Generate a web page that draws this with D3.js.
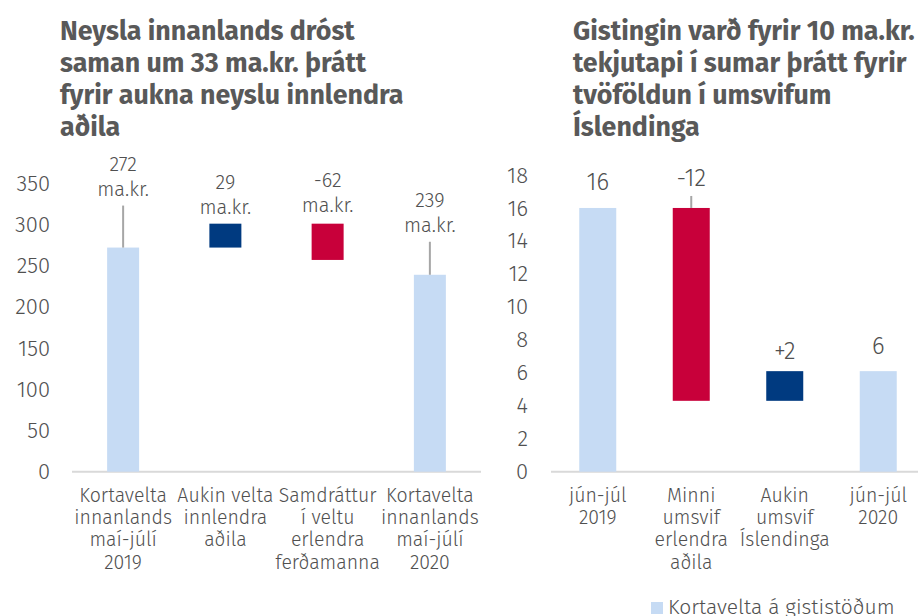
<!DOCTYPE html>
<html>
<head>
<meta charset="utf-8">
<script src="https://cdn.jsdelivr.net/npm/d3@7"></script>
<style>
  body { margin: 0; background: #fff; }
  svg { display: block; }
  .title { font-family: "Fira Sans", "Open Sans", sans-serif; font-weight: 700; fill: #595959; }
  .tick text, .lbl, .cat, .legend { font-family: "Fira Sans", Roboto, sans-serif; font-weight: 300; fill: #505050; }
</style>
</head>
<body>
<div id="chart"></div>
<script>
// left panel: card turnover, ma.kr.
const leftTitle = ['Neysla innanlands dróst', 'saman um 33 ma.kr. þrátt', 'fyrir aukna neyslu innlendra', 'aðila']
const leftCats = [
  ['Kortavelta', 'innanlands', 'maí-júlí', '2019'],
  ['Aukin velta', 'innlendra', 'aðila'],
  ['Samdráttur', 'í veltu', 'erlendra', 'ferðamanna'],
  ['Kortavelta', 'innanlands', 'maí-júlí', '2020']
]
const leftLow = [0, 272, 257, 0]
const leftHigh = [272, 301, 301, 239]
const leftLabels = [['272', 'ma.kr.'], ['29', 'ma.kr.'], ['-62', 'ma.kr.'], ['239', 'ma.kr.']]
const leftTicks = [0, 50, 100, 150, 200, 250, 300, 350]

// right panel: accommodation
const rightTitle = ['Gistingin varð fyrir 10 ma.kr.', 'tekjutapi í sumar þrátt fyrir', 'tvöföldun í umsvifum', 'Íslendinga']
const rightCats = [
  ['jún-júl', '2019'],
  ['Minni', 'umsvif', 'erlendra', 'aðila'],
  ['Aukin', 'umsvif', 'Íslendinga'],
  ['jún-júl', '2020']
]
const rightLow = [0, 4.3, 4.3, 0]
const rightHigh = [16, 16, 6.1, 6.1]
const rightLabels = [['16'], ['-12'], ['+2'], ['6']]
const rightTicks = [0, 2, 4, 6, 8, 10, 12, 14, 16, 18]

const kinds = ['total', 'up', 'down', 'total']
const kindsRight = ['total', 'down', 'up', 'total']
const colors = { total: '#c6dbf4', up: '#003a80', down: '#c8003a' }

const width = 918
const height = 616

const svg = d3.select('#chart')
  .append('svg')
  .attr('width', width)
  .attr('height', height)

function drawPanel(o) {
  const x = d3.scaleBand()
    .domain(d3.range(o.cats.length))
    .range([o.left, o.right])
  const y = d3.scaleLinear()
    .domain([0, d3.max(o.ticks)])
    .range([o.bottom, o.top])

  const g = svg.append('g')

  // title
  g.append('text')
    .attr('class', 'title')
    .attr('font-size', 26.8)
    .selectAll('tspan')
    .data(o.title)
    .enter()
    .append('tspan')
    .attr('x', o.titleX)
    .attr('y', (d, i) => 40 + i * 32)
    .text(d => d)

  // y axis
  const yAxis = d3.axisLeft(y).tickValues(o.ticks).tickSize(0).tickPadding(o.tickPad)
  const ya = g.append('g')
    .attr('transform', `translate(${o.left}, 0)`)
    .call(yAxis)
  ya.select('.domain').remove()
  ya.selectAll('text').attr('font-size', 22).attr('fill', '#505050')

  // baseline
  g.append('line')
    .attr('x1', o.left)
    .attr('x2', o.right)
    .attr('y1', y(0))
    .attr('y2', y(0))
    .attr('stroke', '#d9d9d9')
    .attr('stroke-width', 2)

  // bars
  g.selectAll('rect.bar')
    .data(o.low)
    .enter()
    .append('rect')
    .attr('class', 'bar')
    .attr('x', (d, i) => x(i) + x.bandwidth() / 2 - o.barW / 2)
    .attr('y', (d, i) => y(o.high[i]))
    .attr('width', o.barW)
    .attr('height', (d, i) => y(d) - y(o.high[i]))
    .attr('fill', (d, i) => colors[o.kinds[i]])

  // leader lines and labels
  o.labels.forEach((lines, i) => {
    const cx = x(i) + x.bandwidth() / 2
    const top = y(o.high[i])
    const lead = o.leader[i]
    if (lead > 0) {
      g.append('line')
        .attr('x1', cx).attr('x2', cx)
        .attr('y1', top).attr('y2', top - lead)
        .attr('stroke', '#a6a6a6')
        .attr('stroke-width', 2)
    }
    const lastY = top - lead - o.gap[i]
    g.append('text')
      .attr('class', 'lbl')
      .attr('font-size', o.lblSize)
      .attr('text-anchor', 'middle')
      .selectAll('tspan')
      .data(lines)
      .enter()
      .append('tspan')
      .attr('x', cx)
      .attr('y', (d, j) => lastY - (lines.length - 1 - j) * 25)
      .attr('dy', '0.35em')
      .text(d => d)
  })

  // category labels
  o.cats.forEach((lines, i) => {
    g.append('text')
      .attr('class', 'cat')
      .attr('font-size', 19.5)
      .attr('text-anchor', 'middle')
      .selectAll('tspan')
      .data(lines)
      .enter()
      .append('tspan')
      .attr('x', x(i) + x.bandwidth() / 2)
      .attr('y', (d, j) => y(0) + 23 + j * 22.4)
      .attr('dy', '0.35em')
      .text(d => d)
  })
}

drawPanel({
  title: leftTitle, titleX: 60,
  cats: leftCats, low: leftLow, high: leftHigh, labels: leftLabels, ticks: leftTicks,
  kinds: kinds,
  left: 72, right: 481, top: 183.3, bottom: 471.7, tickPad: 22,
  barW: 32, lblSize: 20,
  leader: [42, 0, 0, 33], gap: [17, 17, 19, 17]
})

drawPanel({
  title: rightTitle, titleX: 573,
  cats: rightCats, low: rightLow, high: rightHigh, labels: rightLabels, ticks: rightTicks,
  kinds: kindsRight,
  left: 551, right: 925, top: 175, bottom: 471.7, tickPad: 23,
  barW: 37, lblSize: 24,
  leader: [0, 12, 0, 0], gap: [26, 18, 21, 26]
})

// legend
const lg = svg.append('g')
lg.append('rect')
  .attr('x', 651).attr('y', 602)
  .attr('width', 12).attr('height', 12)
  .attr('fill', colors.total)
lg.append('text')
  .attr('class', 'legend')
  .attr('x', 668).attr('y', 614)
  .attr('font-size', 21)
  .text('Kortavelta á gististöðum')
</script>
</body>
</html>
